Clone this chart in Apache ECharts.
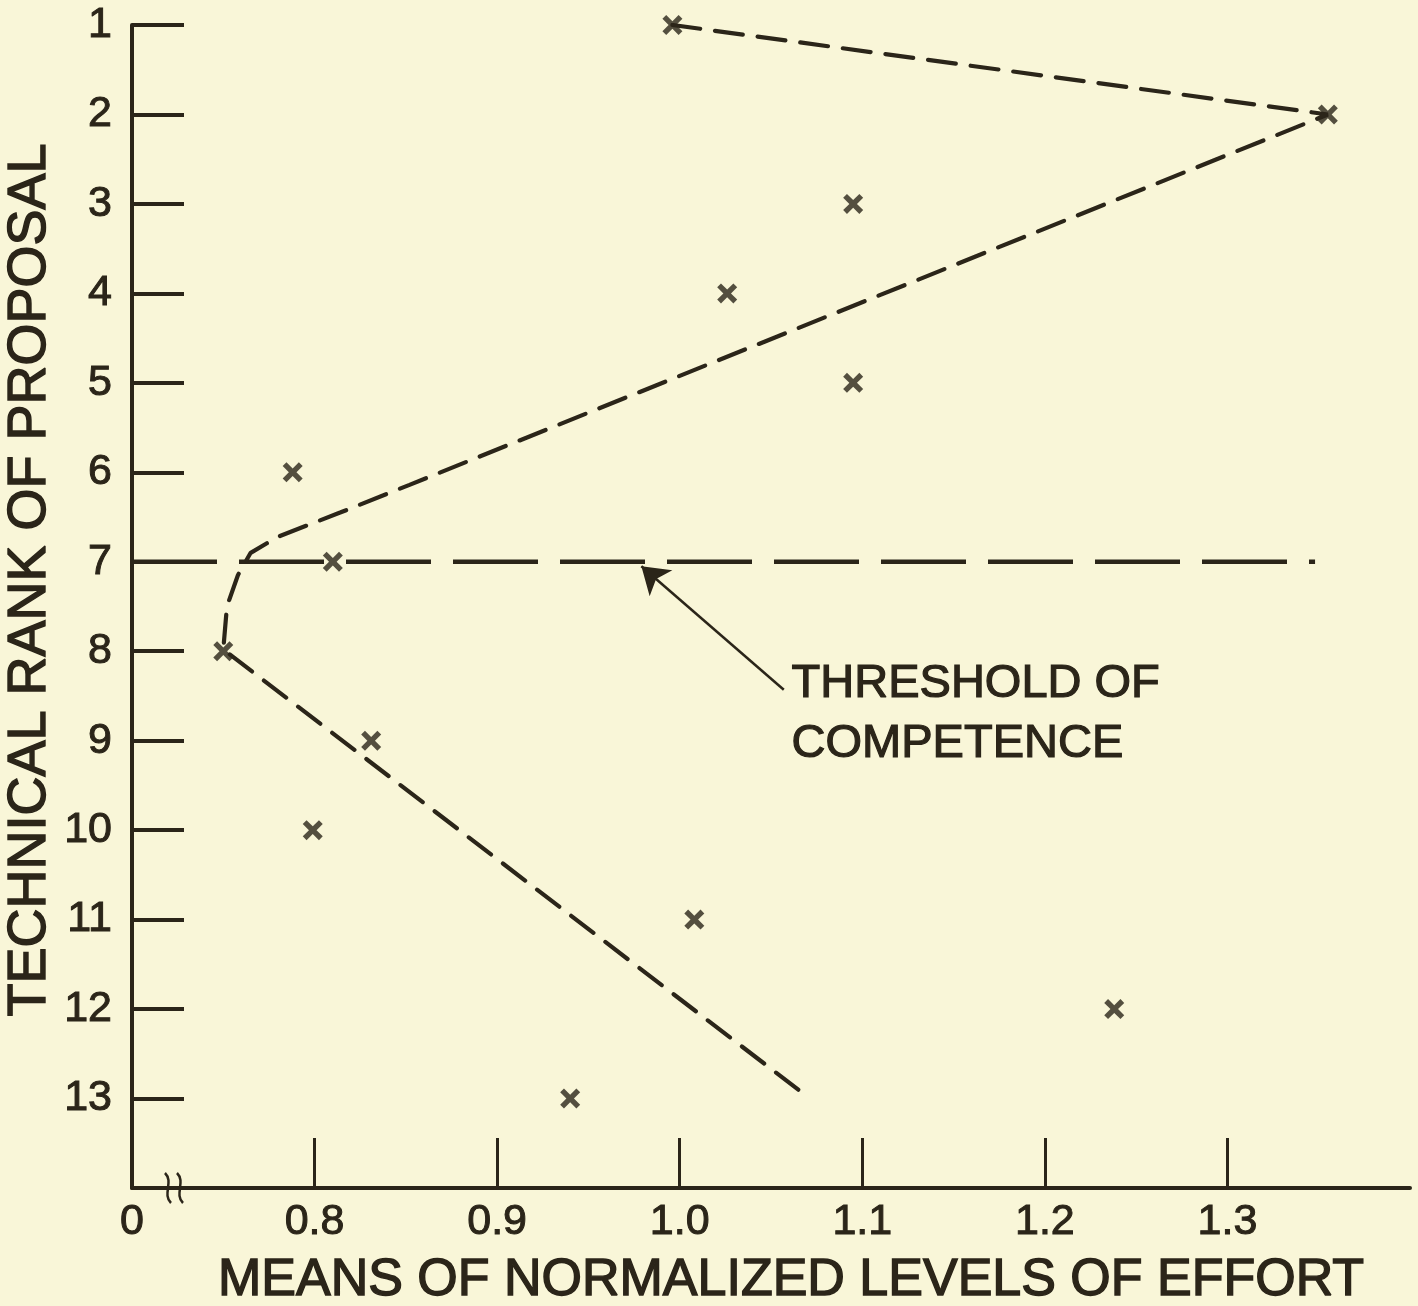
<!DOCTYPE html>
<html>
<head>
<meta charset="utf-8">
<script src="https://cdn.jsdelivr.net/npm/echarts@6/dist/echarts.min.js"></script>
<style>
html,body{margin:0;padding:0;background:#f9f6d8;}
#chart{width:1418px;height:1306px;}
</style>
</head>
<body>
<div id="chart"></div>
<script>
// ---- data ----
var ranks = [1,2,3,4,5,6,7,8,9,10,11,12,13];
var effort = [0.996,1.355,1.095,1.026,1.095,0.788,0.810,0.750,0.831,0.799,1.008,1.238,0.940];
var xTickValues = [0.8,0.9,1.0,1.1,1.2,1.3];
var xLabelValues = [0.7,0.8,0.9,1.0,1.1,1.2,1.3];
var yTickValues = [1,2,3,4,5,6,7,8,9,10,11,12,13];
// hand-drawn trend curve (x = effort, y = rank)
var curveX = [0.996,1.355,0.852,0.814,0.780,0.765,0.758,0.752,0.750,1.070];
var curveY = [1,2,6.14,6.45,6.72,6.90,7.15,7.50,7.98,12.98];
// threshold of competence
var thresholdRank = 7;
var thresholdX = [0.7,1.348];
// annotation arrow (tail -> tip)
var arrowX = [1.057,0.979];
var arrowY = [8.43,7.05];
var breakAt = [0.723];

var ink = '#2b2519';
var font = 'Liberation Sans';
var pts = ranks.map(function(r,i){return [effort[i], r];});
var curve = curveX.map(function(x,i){return [x, curveY[i]];});
var thr = thresholdX.map(function(x){return [x, thresholdRank];});

var chart = echarts.init(document.getElementById('chart'), null, {renderer:'canvas'});
chart.setOption({
  backgroundColor:'#f9f6d8',
  animation:false,
  grid:{left:132,right:8,top:25,bottom:118,containLabel:false},
  xAxis:{
    type:'value',min:0.7,max:1.4,interval:0.1,
    axisLine:{show:true,onZero:false,lineStyle:{color:ink,width:4}},
    axisTick:{show:true,inside:true,length:50,lineStyle:{color:ink,width:3},customValues:xTickValues},
    axisLabel:{show:true,customValues:xLabelValues,margin:13,fontSize:43,fontFamily:font,color:ink,
      textBorderColor:ink,textBorderWidth:1,
      formatter:function(v){return v<0.75?'0':v.toFixed(1);}},
    splitLine:{show:false}
  },
  yAxis:{
    type:'value',inverse:true,min:1,max:14,interval:1,
    axisLine:{show:true,onZero:false,lineStyle:{color:ink,width:4}},
    axisTick:{show:true,inside:true,length:52,lineStyle:{color:ink,width:4},customValues:yTickValues},
    axisLabel:{show:true,customValues:yTickValues,margin:20,fontSize:43,fontFamily:font,color:ink,
      textBorderColor:ink,textBorderWidth:1},
    splitLine:{show:false}
  },
  graphic:[
    {type:'text',x:30,y:580,rotation:Math.PI/2,style:{text:'TECHNICAL RANK OF PROPOSAL',font:'54px "Liberation Sans"',fill:ink,stroke:ink,lineWidth:1.4,textAlign:'center',textVerticalAlign:'middle'}},
    {type:'text',x:791,y:1281,style:{text:'MEANS OF NORMALIZED LEVELS OF EFFORT',font:'52px "Liberation Sans"',fill:ink,stroke:ink,lineWidth:1.4,textAlign:'center',textVerticalAlign:'middle'}},
    {type:'text',left:791,top:654,style:{text:'THRESHOLD OF\nCOMPETENCE',font:'47px "Liberation Sans"',lineHeight:60,fill:ink,stroke:ink,lineWidth:1.2,textAlign:'left',textVerticalAlign:'top'}}
  ],
  series:[
    {type:'line',name:'threshold',data:thr,symbol:'none',silent:true,
      lineStyle:{color:ink,width:4.5,type:[85,22]}},
    {type:'line',name:'curve',data:curve,symbol:'none',silent:true,
      lineStyle:{color:ink,width:4.2,type:[28,15],cap:'round'}},
    {type:'lines',coordinateSystem:'cartesian2d',silent:true,
      symbol:['none','arrow'],symbolSize:[10,26],
      lineStyle:{color:ink,width:2.5,opacity:1},
      data:[{coords:[[arrowX[0],arrowY[0]],[arrowX[1],arrowY[1]]]}]},
    {type:'scatter',name:'proposals',data:pts,symbolSize:20,silent:true,
      symbol:'path://M1.9,0 L5,3.1 L8.1,0 L10,1.9 L6.9,5 L10,8.1 L8.1,10 L5,6.9 L1.9,10 L0,8.1 L3.1,5 L0,1.9 Z',
      itemStyle:{color:ink}},
    {type:'custom',silent:true,data:breakAt.map(function(x){return [x,14];}),
      renderItem:function(params,api){
        var p = api.coord([api.value(0),api.value(1)]);
        var kids = [];
        [-6,6].forEach(function(dx){
          var x=p[0]+dx, y=p[1];
          kids.push({type:'bezierCurve',shape:{x1:x-3,y1:y-15,cpx1:x+6,cpy1:y-6,cpx2:x-6,cpy2:y+6,x2:x+3,y2:y+15},
            style:{stroke:ink,lineWidth:2.5,fill:null}});
        });
        return {type:'group',children:kids};
      }}
  ]
});
</script>
</body>
</html>
